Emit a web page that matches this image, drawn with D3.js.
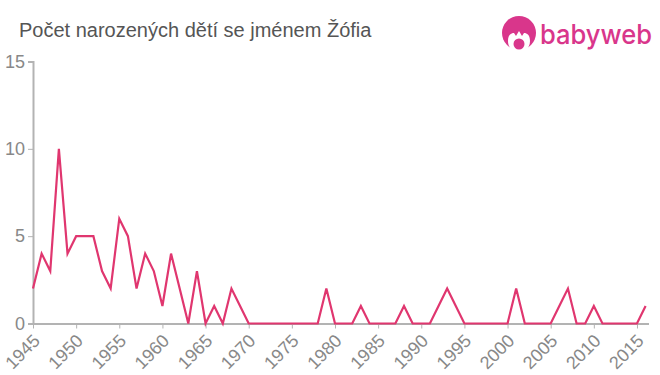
<!DOCTYPE html>
<html><head><meta charset="utf-8">
<script src="https://cdnjs.cloudflare.com/ajax/libs/d3/7.8.5/d3.min.js"></script>
<style>html,body{margin:0;padding:0;background:#fff}svg{display:block;font-family:"Liberation Sans",Arial,sans-serif}</style>
</head><body><svg id="c" width="660" height="375"></svg>
<script>
const chartTitle = "Počet narozených dětí se jménem Žófia";
const brand = "babyweb";
const years = d3.range(1945, 2017);
const counts = [2,4,3,10,4,5,5,5,3,2,6,5,2,4,3,1,4,2,0,3,0,1,0,2,1,0,
  0,0,0,0,0,0,0,0,2,0,0,0,1,0,0,0,0,1,0,0,0,1,2,1,0,
  0,0,0,0,0,2,0,0,0,0,1,2,0,0,1,0,0,0,0,0,1];
const yTicks = [0,5,10,15];
const xTicks = d3.range(1945, 2016, 5);

const svg = d3.select("#c");
const x = d3.scaleLinear().domain([1945, 2016]).range([33, 645.6]);
const y = d3.scaleLinear().domain([0, 15]).range([323.5, 61.5]);
const axisColor = "#b3b3b3", labelColor = "#888";

svg.append("text").attr("x", 19).attr("y", 37).attr("font-size", 20).attr("fill", "#555").text(chartTitle);

const ga = svg.append("g").attr("transform", "translate(0,323.5)")
  .call(d3.axisBottom(x).tickValues(xTicks).tickFormat(d3.format("d")).tickSize(5).tickPadding(3));
ga.select(".domain").attr("stroke", axisColor).attr("stroke-width", 2).attr("d", "M32,0.5H649");
ga.selectAll("line").attr("stroke", axisColor).attr("stroke-width", 1);
ga.selectAll("text").attr("fill", labelColor).attr("font-size", 18).attr("font-family", "Liberation Sans")
  .attr("text-anchor", "end").attr("x", 0).attr("y", 0).attr("dy", "0.35em")
  .attr("transform", "translate(3,14) rotate(-45)");

const gb = svg.append("g").attr("transform", "translate(33,0)")
  .call(d3.axisLeft(y).tickValues(yTicks).tickSize(5).tickPadding(3));
gb.select(".domain").attr("stroke", axisColor).attr("stroke-width", 2);
gb.selectAll("line").attr("stroke", axisColor).attr("stroke-width", 1);
gb.selectAll("text").attr("fill", labelColor).attr("font-size", 18).attr("font-family", "Liberation Sans");

svg.append("path").datum(counts)
  .attr("fill", "none").attr("stroke", "#e0366f").attr("stroke-width", 2.2).attr("stroke-linejoin", "miter")
  .attr("d", d3.line().x((d, i) => x(years[i])).y(d => y(d)));

// logo
const logo = svg.append("g").attr("fill", "#d9368b");
logo.append("circle").attr("cx", 519).attr("cy", 33).attr("r", 17);
logo.append("path").attr("fill", "#fff").attr("d", "M508,41 C508,35 511,33 514,33 L516,36 L519,31 L522,36 L524,33 C527,33 530,35 530,41 C530,49 524,52 519,52 C514,52 508,49 508,41Z");
logo.append("circle").attr("cx", 519).attr("cy", 44).attr("r", 5.5);
logo.append("text").attr("x", 540).attr("y", 43.5).attr("font-family", "Inter").attr("font-size", 27).attr("font-weight", 500)
  .attr("textLength", 112).attr("lengthAdjust", "spacingAndGlyphs").text(brand);
</script></body></html>
